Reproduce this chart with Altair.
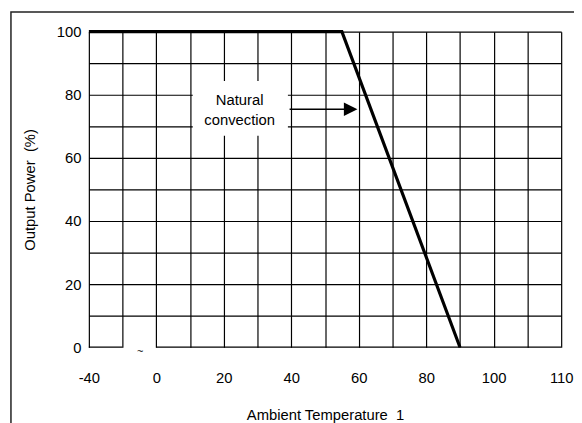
import altair as alt
import pandas as pd

# ---- data ----
temps = [-40, 55, 90]          # ambient temperature (°C)
power = [100, 100, 0]          # output power (%)

grid_cols = list(range(0, 15))                     # one grid column per 10 °C (first two compressed)
x_label_cols = [0, 2, 4, 6, 8, 10, 12, 14]
x_label_text = ["-40", "0", "20", "40", "60", "80", "100", "110"]
y_grid_vals = list(range(0, 101, 10))

bottom_seg_start = [0, 2]      # bottom frame segments (axis break between col 1 and 2)
bottom_seg_end = [1, 14]

note_lines = ["Natural", "convection"]

# ---- layout ----
W, H = 479, 320
FONT = "Liberation Sans"
FS = 15

col_expr = "datum.t < 0 ? (datum.t + 40) / 20 : 2 + datum.t / 10"

label_expr = ""
for c, t in zip(x_label_cols, x_label_text):
    label_expr += f"datum.value == {c} ? '{t}' : "
label_expr += "''"

xscale = alt.Scale(domain=[0, 14], nice=False, zero=False)
yscale = alt.Scale(domain=[0, 100], nice=False, zero=False)

line_df = pd.DataFrame({"t": temps, "p": power})

base_axes = alt.Chart(line_df).transform_calculate(col=col_expr).mark_line(
    color="black", strokeWidth=3.2, strokeCap="butt"
).encode(
    x=alt.X("col:Q", scale=xscale,
            axis=alt.Axis(values=grid_cols, tickCount=100, labelExpr=label_expr,
                          title="Ambient Temperature \u00a01",
                          labelPadding=24, titlePadding=22,
                          grid=True, labelFlush=False, labelOverlap=False)),
    y=alt.Y("p:Q", scale=yscale,
            axis=alt.Axis(values=y_grid_vals, tickCount=100,
                          labelExpr="datum.value % 20 == 0 ? datum.label : ''",
                          title="Output Power \u00a0(%)",
                          labelPadding=8, titlePadding=19, grid=True,
                          gridOpacity={"condition": {"test": "datum.value === 0", "value": 0}, "value": 1},
                          labelOverlap=False)),
)

seg_df = pd.DataFrame({"a": bottom_seg_start, "b": bottom_seg_end, "y": [0, 0]})
bottom = alt.Chart(seg_df).mark_rule(color="black", strokeWidth=1.2).encode(
    x=alt.X("a:Q", scale=xscale), x2="b:Q", y=alt.Y("y:Q", scale=yscale)
)

tilde = alt.Chart(pd.DataFrame({"c": [1.52], "y": [-1.5]})).mark_text(
    text="~", fontSize=11, font=FONT, color="black", baseline="middle"
).encode(x=alt.X("c:Q", scale=xscale), y=alt.Y("y:Q", scale=yscale))

box = alt.Chart(pd.DataFrame({"x1": [3.08], "x2": [5.9], "y1": [67.0], "y2": [84.4]})).mark_rect(
    fill="white"
).encode(x=alt.X("x1:Q", scale=xscale), x2="x2:Q", y=alt.Y("y1:Q", scale=yscale), y2="y2:Q")

note = alt.Chart(pd.DataFrame({"c": [4.47, 4.47], "y": [78.4, 72.0], "txt": note_lines})).mark_text(
    fontSize=FS, font=FONT, color="black", baseline="middle"
).encode(x=alt.X("c:Q", scale=xscale), y=alt.Y("y:Q", scale=yscale), text="txt:N")

arrow_line = alt.Chart(pd.DataFrame({"a": [5.95], "b": [7.6], "y": [75.4]})).mark_rule(
    color="black", strokeWidth=1.5
).encode(x=alt.X("a:Q", scale=xscale), x2="b:Q", y=alt.Y("y:Q", scale=yscale))

arrow_head = alt.Chart(pd.DataFrame({"c": [7.76], "y": [75.4]})).mark_point(
    shape="M-1,-1L1,0L-1,1Z", size=190, filled=True, color="black", opacity=1
).encode(x=alt.X("c:Q", scale=xscale), y=alt.Y("y:Q", scale=yscale))

frame = alt.Chart(pd.DataFrame({"k": [0]})).mark_rect(
    fill=None, stroke="#222", strokeWidth=1.5
).encode(x=alt.value(-79), x2=alt.value(700), y=alt.value(-20), y2=alt.value(700))

chart = alt.layer(
    frame, base_axes, bottom, tilde, box, note, arrow_line, arrow_head
).properties(
    width=W, height=H,
    autosize=alt.AutoSizeParams(type="none"),
    padding={"left": 82, "top": 21, "right": 13, "bottom": 84},
).configure_view(stroke=None).configure_axis(
    domain=False, ticks=False, gridColor="black", gridWidth=1.2, gridOpacity=1,
    labelFont=FONT, labelFontSize=FS, labelColor="black",
    titleFont=FONT, titleFontSize=FS, titleFontWeight="normal", titleColor="black",
)

chart.save("out.html", embed_options={"renderer": "svg", "actions": False})
